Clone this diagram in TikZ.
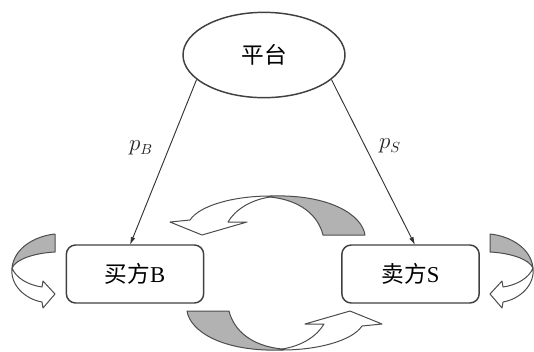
\documentclass[tikz,border=0pt]{standalone}
\usepackage{fontspec}
\setmainfont{Liberation Serif}
\newfontfamily\cjk{Noto Sans CJK SC}
\usetikzlibrary{arrows.meta,shapes.geometric}
\begin{document}
\begin{tikzpicture}[x=0.75pt,y=-0.75pt,
  party/.style={draw=black!75, line width=1.1pt, rounded corners=7pt,
    minimum width=103pt, minimum height=43.5pt, inner sep=0pt,
    font=\fontsize{17}{20}\selectfont},
  platform/.style={ellipse, draw=black!75, line width=1.1pt,
    minimum width=121.5pt, minimum height=64pt, inner sep=0pt,
    font=\fontsize{17}{20}\selectfont},
  conn/.style={draw=black!80, line width=0.7pt, -{Latex[length=6pt,width=3.5pt]}},
  price/.style={inner sep=0pt, font=\fontsize{16}{19}\selectfont, text=black!85},
  ribbon/.style={draw=black!70, line width=0.75pt, line join=round},
  backside/.style={ribbon, fill=black!30},
  frontside/.style={ribbon, fill=white}]
\useasboundingbox (0,0) rectangle (534,351);

% nodes
\node[platform] (plat) at (264,55) {\cjk 平台};
\node[party] (buyer) at (135,274) {\cjk 买方\rmfamily B};
\node[party] (seller) at (410.5,274) {\cjk 卖方\rmfamily S};
\coordinate (bt) at (130,245);
\coordinate (st) at (415,245);

% connectors
\draw[conn] (plat.200) -- (bt);
\draw[conn] (plat.340) -- (st);
\node[price] (pb) at (141,148) {$p_{B}$};
\node[price] (ps) at (390,146) {$p_{S}$};

% top twisted arrow
\path[backside] (270,196) .. controls (330,194) and (362,215) .. (365,235)
  -- (323,235) .. controls (318,215) and (300,200) .. (270,197) -- cycle;
\path[frontside] (270,196) .. controls (235,196) and (200,205) .. (190,220)
  -- (170,222) -- (202,235) -- (247,222) -- (228,222)
  .. controls (235,210) and (250,200) .. (270,197) -- cycle;

% bottom twisted arrow (point reflection of the top one)
\begin{scope}[rotate around={180:(276,273)}]
\path[backside] (270,196) .. controls (330,194) and (362,215) .. (365,235)
  -- (323,235) .. controls (318,215) and (300,200) .. (270,197) -- cycle;
\path[frontside] (270,196) .. controls (235,196) and (200,205) .. (190,220)
  -- (170,222) -- (202,235) -- (247,222) -- (228,222)
  .. controls (235,210) and (250,200) .. (270,197) -- cycle;
\end{scope}

% left side arrow
\path[backside] (55,234) .. controls (35,236) and (14,248) .. (12,268)
  .. controls (16,259) and (35,253) .. (55,252) -- cycle;
\path[frontside] (12,268) .. controls (10,285) and (25,299) .. (42,302)
  -- (43,308) -- (55,294) -- (43,281) -- (42,287)
  .. controls (28,285) and (16,278) .. (12,268) -- cycle;

% right side arrow (mirror)
\begin{scope}[shift={(545,0)}, xscale=-1]
\path[backside] (55,234) .. controls (35,236) and (14,248) .. (12,268)
  .. controls (16,259) and (35,253) .. (55,252) -- cycle;
\path[frontside] (12,268) .. controls (10,285) and (25,299) .. (42,302)
  -- (43,308) -- (55,294) -- (43,281) -- (42,287)
  .. controls (28,285) and (16,278) .. (12,268) -- cycle;
\end{scope}
\end{tikzpicture}
\end{document}
